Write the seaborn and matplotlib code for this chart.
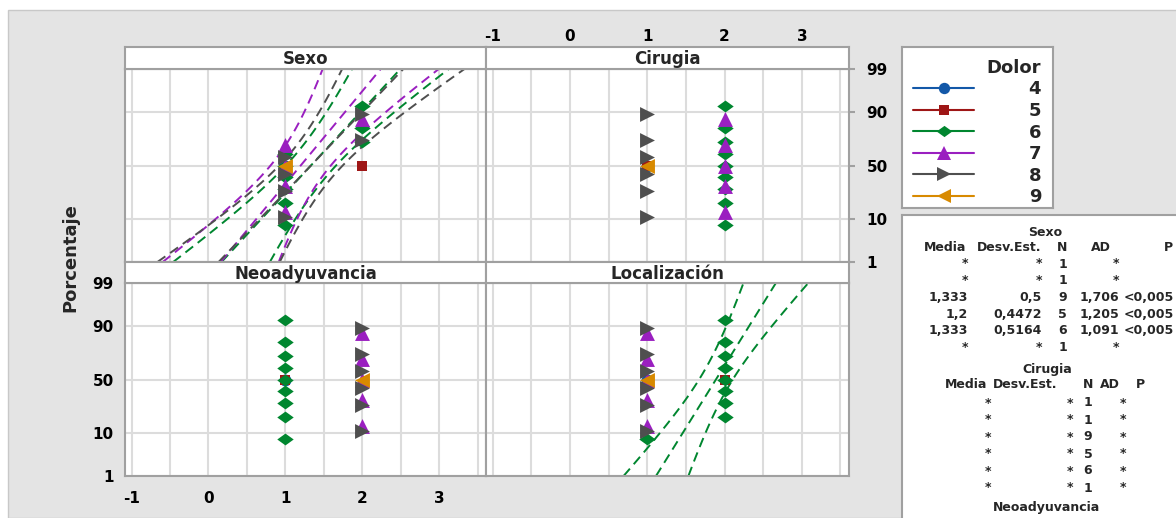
import numpy as np
import pandas as pd
import seaborn as sns
import matplotlib
matplotlib.use("Agg")
import matplotlib.pyplot as plt
from matplotlib.lines import Line2D
from matplotlib.patches import Rectangle
from statistics import NormalDist

# datos: valores por grupo de Dolor (4..9) en cada panel
dolor = [4, 5, 6, 7, 8, 9]
paneles = ["Sexo", "Cirugia", "Neoadyuvancia", "Localización"]
sexo = [[1], [2], [1, 1, 1, 1, 1, 1, 2, 2, 2], [1, 1, 1, 1, 2], [1, 1, 1, 1, 2, 2], [1]]
cirugia = [[1], [1], [2, 2, 2, 2, 2, 2, 2, 2, 2], [2, 2, 2, 2, 2], [1, 1, 1, 1, 1, 1], [1]]
neoadyuvancia = [[1], [1], [1, 1, 1, 1, 1, 1, 1, 1, 1], [2, 2, 2, 2, 2], [2, 2, 2, 2, 2, 2], [2]]
localizacion = [[1], [2], [1, 2, 2, 2, 2, 2, 2, 2, 2], [1, 1, 1, 1, 1], [1, 1, 1, 1, 1, 1], [1]]
pct_ticks = [1, 10, 50, 90, 99]
x_ticks = [-1, 0, 1, 2, 3]

# tabla de estadisticos (como aparece en Minitab)
tabla_cols = ["Media", "Desv.Est.", "N", "AD", "P"]
sexo_media = ["*", "*", "1,333", "1,2", "1,333", "*"]
sexo_desv = ["*", "*", "0,5", "0,4472", "0,5164", "*"]
sexo_n = ["1", "1", "9", "5", "6", "1"]
sexo_ad = ["*", "*", "1,706", "1,205", "1,091", "*"]
sexo_p = ["", "", "<0,005", "<0,005", "<0,005", ""]
cir_media = ["*", "*", "*", "*", "*", "*"]
cir_desv = ["*", "*", "*", "*", "*", "*"]
cir_n = ["1", "1", "9", "5", "6", "1"]
cir_ad = ["*", "*", "*", "*", "*", "*"]
cir_p = ["", "", "", "", "", ""]

colores = {4: "#1358a8", 5: "#9e1616", 6: "#00862f", 7: "#9a1fc0", 8: "#4f4f4f", 9: "#d88a00"}
diamante = [(-1, 0), (0, 0.72), (1, 0), (0, -0.72), (-1, 0)]
marcas = {4: "o", 5: "s", 6: diamante, 7: "^", 8: ">", 9: "<"}
tamanos = {4: 74, 5: 52, 6: 140, 7: 115, 8: 115, 9: 115}

sns.set_style("white")
plt.rcParams["font.family"] = ["DejaVu Sans"]
plt.rcParams["font.weight"] = "bold"
plt.rcParams["axes.unicode_minus"] = False

nd = NormalDist()
filas = []
for panel, grupos in zip(paneles, [sexo, cirugia, neoadyuvancia, localizacion]):
    for d, vals in zip(dolor, grupos):
        v = sorted(vals)
        n = len(v)
        for i, x in enumerate(v, 1):
            filas.append(dict(panel=panel, Dolor=d, valor=x, z=nd.inv_cdf((i - 0.3) / (n + 0.4))))
df = pd.DataFrame(filas)

W, H = 1176, 518
fig = plt.figure(figsize=(W / 100, H / 100), dpi=100, facecolor="white")
fig.add_artist(Rectangle((8 / W, 0), 1, 1 - 10 / H, transform=fig.transFigure,
                         facecolor="#e4e4e4", edgecolor="#c8c8c8", lw=1, zorder=-1))


def caja(x0, y0, x1, y1):
    return [x0 / W, 1 - y1 / H, (x1 - x0) / W, (y1 - y0) / H]


gris = "#a0a0a0"
xlim = (-1.085, 3.61)
zlim = (nd.inv_cdf(0.01), nd.inv_cdf(0.99))
zt = [nd.inv_cdf(p / 100) for p in pct_ticks]
zz = np.linspace(zlim[0], zlim[1], 80)

pos = {"Sexo": (125, 486, 47, 69, 262), "Cirugia": (486, 849, 47, 69, 262),
       "Neoadyuvancia": (125, 486, 262, 283, 476), "Localización": (486, 849, 262, 283, 476)}

for panel in paneles:
    x0, x1, ys, yp, yb = pos[panel]
    ax = fig.add_axes(caja(x0, yp, x1, yb))
    st = fig.add_axes(caja(x0, ys, x1, yp))
    ax.set_xlim(xlim)
    ax.set_ylim(zlim)
    ax.set_xticks(x_ticks)
    ax.set_xticks(np.arange(-0.5, 3.6, 1), minor=True)
    ax.set_yticks(zt)
    ax.set_yticklabels([str(p) for p in pct_ticks])
    ax.grid(True, which="both", color="#dcdcdc", lw=1.5)
    ax.set_axisbelow(True)
    ax.tick_params(which="minor", length=0)
    for s in ax.spines.values():
        s.set_color(gris)
        s.set_linewidth(1.5)

    sub = df[df.panel == panel]
    # ajuste normal y bandas de confianza del 95%
    for d in dolor:
        g = sub[sub.Dolor == d].valor.to_numpy(dtype=float)
        if len(g) > 1 and g.std(ddof=1) > 0:
            mu, sd, n = g.mean(), g.std(ddof=1), len(g)
            mid = mu + zz * sd
            se = sd * np.sqrt((1 + zz ** 2 / 2) / n)
            for xl in (mid - 1.96 * se, mid, mid + 1.96 * se):
                ax.plot(xl, zz, color=colores[d], lw=1.4, ls=(0, (5, 3)), zorder=2)
    for d in dolor:
        g = sub[sub.Dolor == d]
        sns.scatterplot(data=g, x="valor", y="z", color=colores[d], marker=marcas[d],
                        s=tamanos[d], linewidth=0, ax=ax, legend=False, zorder=3)
    ax.set_xlabel("")
    ax.set_ylabel("")

    st.set_facecolor("white")
    st.set_xlim(xlim)
    st.set_yticks([])
    for s in st.spines.values():
        s.set_color(gris)
        s.set_linewidth(1.5)
    st.text(0.5, 0.45, panel, ha="center", va="center", transform=st.transAxes,
            fontsize=12, fontweight="bold")

    tl = dict(colors=gris, labelcolor="black", labelsize=11, width=1.5)
    if panel == "Sexo":
        ax.tick_params(which="major", length=0, labelleft=False, labelbottom=False)
        st.set_xticks([])
    elif panel == "Cirugia":
        ax.yaxis.tick_right()
        ax.tick_params(axis="y", which="major", length=4.5, pad=8, **tl)
        ax.tick_params(axis="x", which="major", length=0, labelbottom=False)
        st.set_xticks(x_ticks)
        st.xaxis.tick_top()
        st.tick_params(axis="x", length=0, pad=2, **tl)
    elif panel == "Neoadyuvancia":
        ax.tick_params(axis="y", which="major", length=7, pad=1, **tl)
        ax.tick_params(axis="x", which="major", length=3.6, pad=7, **tl)
        st.set_xticks([])
    else:
        ax.tick_params(which="major", length=0, labelleft=False, labelbottom=False)
        st.set_xticks([])

fig.text(70 / W, 1 - 258 / H, "Porcentaje", rotation=90, ha="center", va="center",
         fontsize=13, fontweight="bold")

# leyenda
lg = fig.add_axes(caja(902, 47, 1053, 208))
lg.set_xticks([])
lg.set_yticks([])
for s in lg.spines.values():
    s.set_color(gris)
    s.set_linewidth(1.5)
handles = [Line2D([0], [0], color=colores[d], lw=1.5, marker=marcas[d],
                  markersize=np.sqrt(tamanos[d]) * 0.95, markeredgewidth=0) for d in dolor]
lg.legend(handles, [str(d) for d in dolor], title="Dolor", loc="upper right",
          bbox_to_anchor=(1, 1), frameon=False, fontsize=13,
          title_fontproperties={"weight": "bold", "size": 13}, alignment="right",
          handlelength=3.4, handletextpad=3.0, labelspacing=0.2, borderaxespad=0.2,
          borderpad=0.45)

# tabla de estadisticos
tb = fig.add_axes(caja(902, 215, 1200, 540))
tb.set_xticks([])
tb.set_yticks([])
for s in tb.spines.values():
    s.set_color(gris)
    s.set_linewidth(1.5)


def t(x, y, s, ha="center"):
    fig.text(x / W, 1 - y / H, s, ha=ha, va="center", fontsize=9, fontweight="bold")


t(1045, 232, "Sexo")
for x, c in zip([945, 1009, 1062, 1101, 1168], tabla_cols):
    t(x, 248, c)
for i, fila in enumerate(zip(sexo_media, sexo_desv, sexo_n, sexo_ad, sexo_p)):
    for x, v in zip([968, 1042, 1067, 1119, 1174], fila):
        t(x, 264 + 16.7 * i, v, ha="right")

t(1047, 369, "Cirugia")
for x, c in zip([966, 1025, 1088, 1110, 1140], tabla_cols):
    t(x, 385, c)
for i, fila in enumerate(zip(cir_media, cir_desv, cir_n, cir_ad, cir_p)):
    for x, v in zip([988, 1070, 1088, 1123, 1140], fila):
        t(x, 403 + 17 * i, v)

t(1047, 507, "Neoadyuvancia")

fig.savefig("out.png", dpi=100, facecolor=fig.get_facecolor())
